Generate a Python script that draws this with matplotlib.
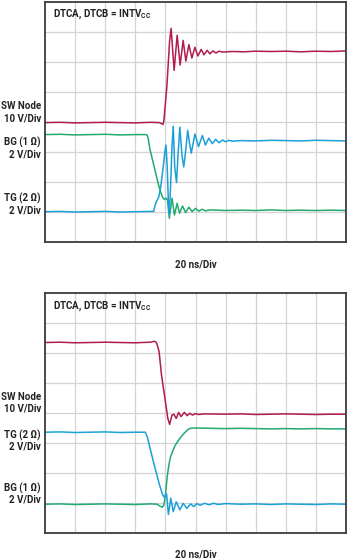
import matplotlib
matplotlib.use("Agg")
import matplotlib.pyplot as plt

plt.rcParams['font.family'] = ['Roboto', 'DejaVu Sans']
plt.rcParams['mathtext.fontset'] = 'custom'
plt.rcParams['mathtext.bf'] = 'Roboto:bold'
plt.rcParams['mathtext.rm'] = 'Roboto:bold'

RED = '#B01C4E'
BLUE = '#1CA0D8'
GREEN = '#22AA70'

# ---------------- data (time in divisions, value in divisions) -------------
# Top panel: rising SW node
top_sw_t = [0, 0.5, 1, 1.5, 2, 2.5, 3, 3.5, 3.8, 3.92, 3.95, 4.05, 4.14, 4.19,
            4.29, 4.39, 4.49, 4.59, 4.68, 4.78, 4.88, 4.98, 5.08, 5.19, 5.28,
            5.39, 5.48, 5.58, 5.68, 5.78, 5.9, 6.2, 6.6, 7, 7.5, 8, 8.5, 9,
            9.5, 10]
top_sw_v = [3.98, 3.99, 3.97, 3.98, 3.99, 3.98, 3.97, 3.99, 3.98, 3.92, 4.05,
            5.2, 6.7, 7.12, 5.72, 6.89, 5.9, 6.72, 6.03, 6.58, 6.13, 6.49,
            6.2, 6.42, 6.24, 6.39, 6.27, 6.37, 6.3, 6.36, 6.33, 6.35, 6.34,
            6.36, 6.35, 6.36, 6.34, 6.36, 6.35, 6.37]

top_tg_t = [0, 0.5, 1, 1.5, 2, 2.5, 3, 3.5, 3.61, 3.65, 3.7, 3.78, 3.84, 3.89,
            3.95, 3.98, 4.02, 4.06, 4.1, 4.13, 4.17, 4.22, 4.26, 4.31, 4.37,
            4.42, 4.48, 4.55, 4.61, 4.68, 4.74, 4.8, 4.86, 4.98, 5.1, 5.23,
            5.33, 5.44, 5.56, 5.67, 5.78, 5.9, 6.0, 6.1, 6.25, 6.5, 7, 7.5,
            8, 8.5, 9, 9.5, 10]
top_tg_v = [1.01, 1.02, 1.0, 1.01, 1.02, 1.0, 1.01, 1.02, 1.02, 1.2, 1.35,
            1.5, 1.8, 2.2, 2.7, 3.0, 3.23, 2.5, 1.3, 0.95, 1.8, 3.2, 3.86,
            2.5, 1.98, 2.9, 3.83, 2.9, 2.5, 3.1, 3.72, 3.3, 2.96, 3.6, 3.18,
            3.55, 3.23, 3.46, 3.28, 3.42, 3.31, 3.4, 3.34, 3.39, 3.36, 3.38,
            3.37, 3.39, 3.38, 3.37, 3.39, 3.38, 3.37]

top_bg_t = [0, 0.5, 1, 1.5, 2, 2.5, 3, 3.35, 3.39, 3.43, 3.48, 3.6, 3.7, 3.8,
            3.9, 3.97, 4.03, 4.07, 4.13, 4.22, 4.3, 4.39, 4.47, 4.57, 4.67,
            4.78, 4.89, 5.0, 5.11, 5.22, 5.33, 5.5, 6, 6.5, 7, 7.5, 8, 8.5,
            9, 9.5, 10]
top_bg_v = [3.58, 3.59, 3.57, 3.58, 3.59, 3.57, 3.58, 3.58, 3.57, 3.45, 3.12,
            2.62, 2.2, 1.8, 1.5, 1.42, 1.46, 1.4, 0.79, 1.46, 0.9, 1.29, 0.96,
            1.2, 0.98, 1.16, 1.01, 1.12, 1.03, 1.09, 1.04, 1.07, 1.05, 1.06,
            1.05, 1.07, 1.05, 1.06, 1.05, 1.06, 1.05]

# Bottom panel: falling SW node
bot_sw_t = [0, 0.5, 1, 1.5, 2, 2.5, 3, 3.5, 3.55, 3.62, 3.68, 3.72, 3.79,
            3.87, 4.0, 4.08, 4.14, 4.22, 4.28, 4.36, 4.44, 4.52, 4.63, 4.72,
            4.81, 4.9, 5.0, 5.1, 5.3, 6, 6.5, 7, 7.5, 8, 8.5, 9, 9.5, 10]
bot_sw_v = [6.35, 6.36, 6.34, 6.35, 6.36, 6.35, 6.34, 6.36, 6.37, 6.39, 6.37,
            6.3, 6.05, 5.27, 4.38, 3.82, 3.62, 3.93, 3.96, 3.82, 4.02, 3.88,
            4.02, 3.91, 3.99, 3.93, 3.98, 3.95, 3.97, 3.96, 3.97, 3.95, 3.96,
            3.97, 3.96, 3.95, 3.96, 3.96]

bot_tg_t = [0, 0.5, 1, 1.5, 2, 2.5, 3, 3.33, 3.4, 3.6, 3.8, 3.9, 3.95, 4.0,
            4.04, 4.1, 4.18, 4.26, 4.36, 4.48, 4.59, 4.71, 4.84, 4.94, 5.05,
            5.15, 5.3, 5.45, 5.6, 5.75, 6.0, 6.5, 7, 7.5, 8, 8.5, 9, 9.5, 10]
bot_tg_v = [3.36, 3.37, 3.35, 3.36, 3.37, 3.35, 3.36, 3.36, 3.2, 2.38, 1.62,
            1.3, 1.2, 1.25, 1.3, 0.62, 1.16, 0.71, 1.04, 0.77, 0.99, 0.82,
            0.97, 0.88, 0.98, 0.92, 0.99, 0.94, 0.99, 0.95, 0.98, 0.96, 0.97,
            0.95, 0.97, 0.96, 0.95, 0.97, 0.96]

bot_bg_t = [0, 0.5, 1, 1.5, 2, 2.5, 3, 3.5, 3.72, 3.85, 3.9, 3.95, 4.0, 4.06,
            4.12, 4.17, 4.25, 4.33, 4.5, 4.6, 4.75, 4.83, 5.0, 5.5, 6, 6.5,
            7, 7.5, 8, 8.5, 9, 9.5, 10]
bot_bg_v = [0.96, 0.97, 0.95, 0.96, 0.97, 0.96, 0.95, 0.97, 0.96, 0.88, 0.86,
            0.93, 1.25, 1.88, 2.3, 2.54, 2.75, 2.93, 3.18, 3.3, 3.45, 3.49,
            3.5, 3.49, 3.48, 3.49, 3.48, 3.47, 3.48, 3.47, 3.48, 3.47, 3.47]

title_text = r"DTCA, DTCB = INTV$_{\mathbf{CC}}$"
time_label = "20 ns/Div"
top_labels = [("SW Node", 106), ("10 V/Div", 118), ("BG (1 Ω)", 142),
              ("2 V/Div", 154.5), ("TG (2 Ω)", 198), ("2 V/Div", 210.5)]
bot_labels = [("SW Node", 396.7), ("10 V/Div", 408.5), ("TG (2 Ω)", 435.7),
              ("2 V/Div", 447), ("BG (1 Ω)", 488.5), ("2 V/Div", 499.5)]

W, H = 359, 560
fig = plt.figure(figsize=(W / 100, H / 100), dpi=100)


def make_ax(top_px):
    ax = fig.add_axes([45 / W, 1 - (top_px + 240) / H, 301 / W, 240 / H])
    ax.set_xlim(0, 10)
    ax.set_ylim(0, 8)
    ax.set_xticks(range(1, 10))
    ax.set_yticks(range(1, 8))
    ax.tick_params(length=0, labelbottom=False, labelleft=False)
    ax.grid(True, color='#d4d4d4', linewidth=0.9)
    ax.set_axisbelow(True)
    for s in ax.spines.values():
        s.set_color('#3c3c3c')
        s.set_linewidth(1.3)
    return ax


lw = 1.1
ax1 = make_ax(2)
ax1.plot(top_sw_t, top_sw_v, color=RED, lw=lw)
ax1.plot(top_bg_t, top_bg_v, color=GREEN, lw=lw)
ax1.plot(top_tg_t, top_tg_v, color=BLUE, lw=lw)

ax2 = make_ax(293)
ax2.plot(bot_sw_t, bot_sw_v, color=RED, lw=lw)
ax2.plot(bot_bg_t, bot_bg_v, color=GREEN, lw=lw)
ax2.plot(bot_tg_t, bot_tg_v, color=BLUE, lw=lw)

fs = 7
for txt, y in top_labels + bot_labels:
    fig.text(41 / W, 1 - y / H, txt, ha='right', va='center', fontsize=fs,
             fontweight='bold', color='#222222')

for y in (14, 306):
    fig.text(53 / W, 1 - y / H, title_text, ha='left', va='center',
             fontsize=fs, fontweight='bold', color='#222222')
for y in (264, 555):
    fig.text(196 / W, 1 - y / H, time_label, ha='center', va='center',
             fontsize=fs, fontweight='bold', color='#222222')

fig.savefig("out.png", dpi=100)
